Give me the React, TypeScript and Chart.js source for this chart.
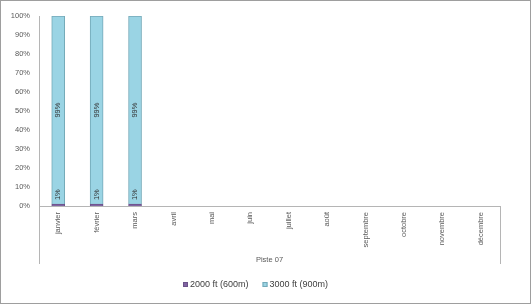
import React, { useEffect, useRef } from 'react';
import { Chart, registerables } from 'chart.js';

Chart.register(...registerables);

const months = ['janvier', 'février', 'mars', 'avril', 'mai', 'juin', 'juillet', 'août', 'septembre', 'octobre', 'novembre', 'décembre'];
const series2000 = [1, 1, 1, null, null, null, null, null, null, null, null, null];
const series3000 = [99, 99, 99, null, null, null, null, null, null, null, null, null];
const seriesNames = ['2000 ft (600m)', '3000 ft (900m)'];
const groupLabel = 'Piste 07';

const FILL = ['#8064A2', '#9AD4E4'];
const EDGE = ['#6B5289', '#74A9B8'];
const AXIS = '#B5B5B5';
const TEXT = '#595959';
const FONT = '"Liberation Sans", Arial, sans-serif';

const extrasPlugin = {
  id: 'extras',
  afterDatasetsDraw(chart: any) {
    const ctx = chart.ctx as CanvasRenderingContext2D;
    ctx.save();
    ctx.font = `7.5px ${FONT}`;
    ctx.fillStyle = '#333333';
    ctx.textBaseline = 'middle';
    ctx.textAlign = 'center';
    chart.data.datasets.forEach((ds: any, di: number) => {
      const meta = chart.getDatasetMeta(di);
      meta.data.forEach((el: any, i: number) => {
        const v = ds.data[i];
        if (v == null) return;
        const txt = v + '%';
        const w = ctx.measureText(txt).width;
        const top = Math.min(el.y, el.base);
        const bot = Math.max(el.y, el.base);
        let cy = (top + bot) / 2;
        if (bot - top < w + 4) cy = top - w / 2 - 4;
        ctx.save();
        ctx.translate(el.x, cy);
        ctx.rotate(-Math.PI / 2);
        ctx.fillText(txt, 0, 0);
        ctx.restore();
      });
    });
    ctx.restore();
  },
  afterDraw(chart: any) {
    const ctx = chart.ctx as CanvasRenderingContext2D;
    const area = chart.chartArea;
    ctx.save();
    ctx.strokeStyle = AXIS;
    ctx.lineWidth = 1;
    ctx.beginPath();
    ctx.moveTo(Math.round(area.left) + 0.5, area.bottom);
    ctx.lineTo(Math.round(area.left) + 0.5, 264);
    ctx.moveTo(Math.round(area.right) + 0.5, area.bottom);
    ctx.lineTo(Math.round(area.right) + 0.5, 264);
    ctx.stroke();
    ctx.fillStyle = TEXT;
    ctx.font = `7.5px ${FONT}`;
    ctx.textAlign = 'center';
    ctx.textBaseline = 'middle';
    ctx.fillText(groupLabel, (area.left + area.right) / 2, 260);
    // legend
    ctx.font = `9px ${FONT}`;
    ctx.textAlign = 'left';
    const box = 5;
    const gap = 14;
    let x = 183;
    const y = 285;
    seriesNames.forEach((n, i) => {
      const w = ctx.measureText(n).width;
      ctx.fillStyle = FILL[i];
      ctx.fillRect(x, y - 3, box, box);
      ctx.strokeStyle = EDGE[i];
      ctx.strokeRect(x + 0.5, y - 2.5, box - 1, box - 1);
      ctx.fillStyle = '#404040';
      ctx.fillText(n, x + box + 2, y);
      x += box + 2 + w + gap;
    });
    ctx.strokeStyle = '#9E9E9E';
    ctx.lineWidth = 1;
    ctx.strokeRect(0.5, 0.5, 530, 303);
    ctx.restore();
  },
};

export default function App() {
  const ref = useRef<HTMLCanvasElement | null>(null);
  useEffect(() => {
    if (!ref.current) return;
    const chart = new Chart(ref.current, {
      type: 'bar',
      data: {
        labels: months,
        datasets: [
          { label: seriesNames[0], data: series2000, backgroundColor: FILL[0], borderColor: EDGE[0], borderWidth: 1, barThickness: 13 },
          { label: seriesNames[1], data: series3000, backgroundColor: FILL[1], borderColor: EDGE[1], borderWidth: 1, barThickness: 13 },
        ],
      },
      options: {
        responsive: false,
        animation: false,
        devicePixelRatio: 1,
        layout: { padding: { left: 0, right: 31, top: 16, bottom: 0 } },
        plugins: { legend: { display: false }, tooltip: { enabled: false }, title: { display: false } },
        scales: {
          x: {
            stacked: true,
            grid: { display: false, drawTicks: false },
            border: { display: true, color: AXIS },
            ticks: { maxRotation: 90, minRotation: 90, autoSkip: false, padding: 6, color: TEXT, font: { family: FONT, size: 7.5 } },
            afterFit: (s: any) => { s.height = 99; },
          },
          y: {
            stacked: true,
            min: 0,
            max: 100,
            grid: { display: false, drawTicks: false },
            border: { display: true, color: AXIS },
            ticks: { stepSize: 10, padding: 9, color: TEXT, font: { family: FONT, size: 7.5 }, callback: (v: any) => v + '%' },
            afterFit: (s: any) => { s.width = 39; },
          },
        },
      },
      plugins: [extrasPlugin],
    });
    return () => chart.destroy();
  }, []);
  return (
    <div style={{ position: 'absolute', left: 0, top: 0, width: 531, height: 305, background: '#fff' }}>
      <canvas ref={ref} width={531} height={305} />
    </div>
  );
}
